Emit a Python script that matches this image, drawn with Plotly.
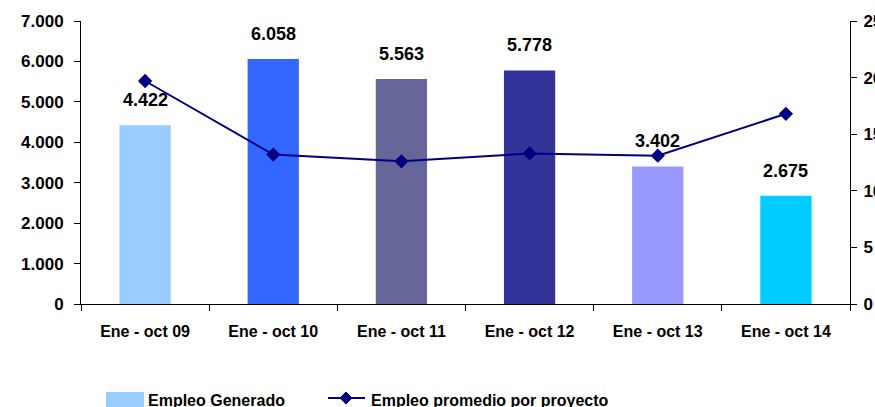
import plotly.graph_objects as go

categories = ["Ene - oct 09", "Ene - oct 10", "Ene - oct 11", "Ene - oct 12", "Ene - oct 13", "Ene - oct 14"]
empleo_generado = [4422, 6058, 5563, 5778, 3402, 2675]
empleo_promedio = [19.7, 13.2, 12.6, 13.3, 13.1, 16.8]
bar_colors = ["#99CCFF", "#3366FF", "#666699", "#333399", "#9999FF", "#00CCFF"]
left_ticks = [0, 1000, 2000, 3000, 4000, 5000, 6000, 7000]
right_ticks = [0, 5, 10, 15, 20, 25]

FONT = "Liberation Sans, Arial, sans-serif"
NARROW = "Liberation Sans Narrow, Arial Narrow, Liberation Sans, Arial, sans-serif"
NAVY = "#000080"

fig = go.Figure()
fig.add_trace(go.Bar(
    x=categories, y=empleo_generado, name="Empleo Generado",
    marker=dict(color=bar_colors, line=dict(width=0)),
    width=0.4, showlegend=False,
))
fig.add_trace(go.Scatter(
    x=categories, y=empleo_promedio, name="Empleo promedio por proyecto",
    yaxis="y2", mode="lines+markers",
    line=dict(color=NAVY, width=2),
    marker=dict(symbol="diamond", size=11, color=NAVY),
    showlegend=False,
))

annotations = []
for c, v in zip(categories, empleo_generado):
    annotations.append(dict(
        x=c, y=v, xref="x", yref="y", text=f"{v:,}".replace(",", "."),
        showarrow=False, yanchor="middle", yshift=25,
        font=dict(family=FONT, size=18, color="black", weight="bold"),
    ))

# manual legend
annotations.append(dict(x=0, y=0, xref="paper", yref="paper", xshift=65, yshift=-96,
                        xanchor="left", yanchor="middle", showarrow=False,
                        text="Empleo Generado",
                        font=dict(family=FONT, size=16, color="black", weight="bold")))
annotations.append(dict(x=0, y=0, xref="paper", yref="paper", xshift=288, yshift=-96,
                        xanchor="left", yanchor="middle", showarrow=False,
                        text="Empleo promedio por proyecto",
                        font=dict(family=FONT, size=16, color="black", weight="bold")))

shapes = [
    dict(type="rect", xref="paper", yref="paper", xsizemode="pixel", ysizemode="pixel",
         xanchor=0, yanchor=0, x0=25, x1=63, y0=-88, y1=-104,
         fillcolor="#99CCFF", line=dict(width=0)),
    dict(type="line", xref="paper", yref="paper", xsizemode="pixel", ysizemode="pixel",
         xanchor=0, yanchor=0, x0=247, x1=284, y0=-94, y1=-94,
         line=dict(color=NAVY, width=2)),
    dict(type="path", xref="paper", yref="paper", xsizemode="pixel", ysizemode="pixel",
         xanchor=0, yanchor=0, path="M265,-88 L271,-94 L265,-100 L259,-94 Z",
         fillcolor=NAVY, line=dict(color=NAVY, width=1)),
]

tick_font = dict(family=FONT, size=17, color="black", weight="bold")

fig.update_layout(
    template="none",
    width=875, height=407,
    margin=dict(l=81, r=25, t=21, b=103, autoexpand=False),
    paper_bgcolor="white", plot_bgcolor="white",
    separators=",.",
    showlegend=False,
    font=dict(family=FONT, color="black"),
    xaxis=dict(
        type="category", showline=True, linecolor="black", linewidth=1,
        ticks="outside", ticklen=6, tickcolor="black", tickson="boundaries",
        showgrid=False, zeroline=False, automargin=False,
        tickfont=dict(family=NARROW, size=16, color="black", weight="bold"),
        ticklabelstandoff=13,
    ),
    yaxis=dict(
        range=[0, 7000], tickvals=left_ticks, tickformat=",d",
        showline=True, linecolor="black", linewidth=1, automargin=False,
        ticks="outside", ticklen=6, tickcolor="black", showgrid=False, zeroline=False,
        tickfont=tick_font, ticklabelstandoff=7,
    ),
    yaxis2=dict(
        range=[0, 25], tickvals=right_ticks, overlaying="y", side="right",
        showline=True, linecolor="black", linewidth=1, automargin=False,
        ticks="outside", ticklen=6, tickcolor="black", showgrid=False, zeroline=False,
        tickfont=tick_font, ticklabelstandoff=3,
    ),
    annotations=annotations,
    shapes=shapes,
)

fig.write_html("out.html", config={"displayModeBar": False},
               post_script="document.body.style.margin='0';document.body.style.overflow='hidden';")
